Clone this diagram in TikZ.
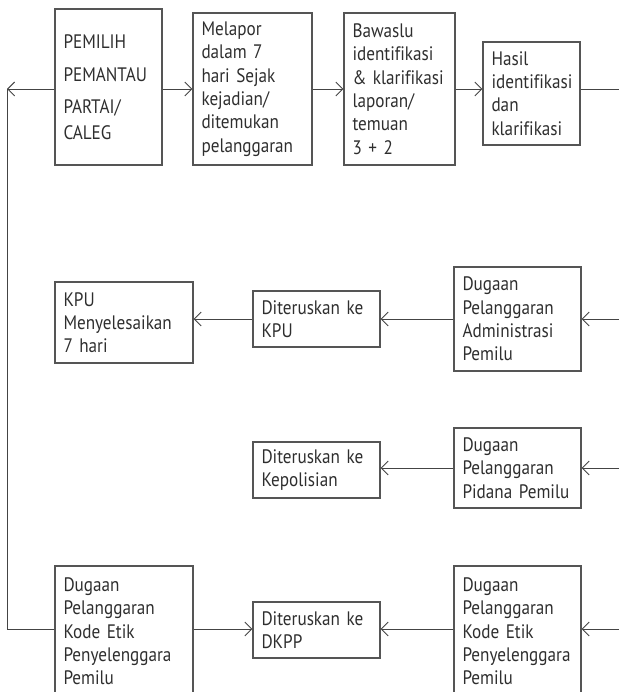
\documentclass[tikz,border=0pt]{standalone}
\usepackage{fontspec}
\setmainfont{PT Sans}[FakeStretch=0.88,Ligatures=NoCommon]
\usetikzlibrary{arrows.meta}
\definecolor{boxc}{HTML}{555555}
\definecolor{linec}{HTML}{444444}
\definecolor{txtc}{HTML}{2E2E2E}
\begin{document}
\begin{tikzpicture}[x=1pt,y=-1pt,
  box/.style={draw=boxc, line width=1.1pt, inner xsep=8.5pt, inner ysep=0pt, align=left, text=txtc, font=\fontsize{19.5}{23.3}\selectfont, anchor=center, execute at begin node={\hyphenpenalty=10000\exhyphenpenalty=10000}},
  arr/.style={draw=linec, line width=0.9pt, -{Straight Barb[length=7pt,width=14pt]}},
  ln/.style={draw=linec, line width=0.9pt}]
\useasboundingbox (0,0) rectangle (619,692);
\clip (0,0) rectangle (619,692);
% top row
\node[box, text width=90pt, minimum height=156pt] (pem) at (108.5,87) {PEMILIH\\[10pt]PEMANTAU\\[9pt]PARTAI/\\[2pt]CALEG};
\node[box, text width=102pt, minimum height=152pt] (mel) at (252.5,89) {Melapor\\dalam~7\\hari~Sejak\\kejadian/\\ditemukan\\pelanggaran};
\node[box, text width=94pt, minimum height=152pt] (baw) at (399.5,89) {Bawaslu\\identifikasi\\\&~klarifikasi\\laporan/\\temuan\\3~+~2};
\node[box, text width=80pt, minimum height=103pt] (has) at (531.5,93.5) {Hasil\\identifikasi\\dan\\klarifikasi};
% administrasi row
\node[box, text width=121pt, minimum height=81pt] (kpu) at (124,322.5) {KPU\\Menyelesaikan\\7~hari};
\node[box, text width=110pt, minimum height=56pt] (dkpu) at (316.5,319) {Diteruskan~ke\\KPU};
\node[box, text width=110pt, minimum height=104pt] (adm) at (517.5,319) {Dugaan\\Pelanggaran\\Administrasi\\Pemilu};
% pidana row
\node[box, text width=110pt, minimum height=56pt] (dpol) at (316.5,470) {Diteruskan~ke\\Kepolisian};
\node[box, text width=110pt, minimum height=80pt] (pid) at (517.5,468) {Dugaan\\Pelanggaran\\Pidana~Pemilu};
% kode etik row
\node[box, text width=121pt, minimum height=131pt] (kodeL) at (124,631.5) {Dugaan\\Pelanggaran\\Kode~Etik\\Penyelenggara\\Pemilu};
\node[box, text width=110pt, minimum height=56pt] (dkpp) at (316.5,630) {Diteruskan~ke\\DKPP};
\node[box, text width=110pt, minimum height=131pt] (kodeR) at (517.5,631.5) {Dugaan\\Pelanggaran\\Kode~Etik\\Penyelenggara\\Pemilu};
% coordinates
\coordinate (r1) at (0,89);
\coordinate (lc) at (7,89);
\coordinate (re1) at (619,89);
\coordinate (ra) at (619,319);
\coordinate (rp) at (619,468);
\coordinate (rk) at (619,629);
\coordinate (yk) at (0,629);
% connectors top
\draw[arr] (pem.west |- r1) -- (lc);
\draw[arr] (pem.east |- r1) -- (mel.west |- r1);
\draw[arr] (mel.east |- r1) -- (baw.west |- r1);
\draw[arr] (baw.east |- r1) -- (has.west |- r1);
\draw[ln] (has.east |- r1) -- (re1);
% left return line
\draw[ln] (kodeL.west |- yk) -| (lc);
% admin row
\draw[arr] (ra) -- (adm.east |- ra);
\draw[arr] (adm.west |- ra) -- (dkpu.east |- ra);
\draw[arr] (dkpu.west |- ra) -- (kpu.east |- ra);
% pidana row
\draw[arr] (rp) -- (pid.east |- rp);
\draw[arr] (pid.west |- rp) -- (dpol.east |- rp);
% kode row
\draw[arr] (rk) -- (kodeR.east |- rk);
\draw[arr] (kodeR.west |- rk) -- (dkpp.east |- rk);
\draw[arr] (kodeL.east |- yk) -- (dkpp.west |- yk);
\end{tikzpicture}
\end{document}
